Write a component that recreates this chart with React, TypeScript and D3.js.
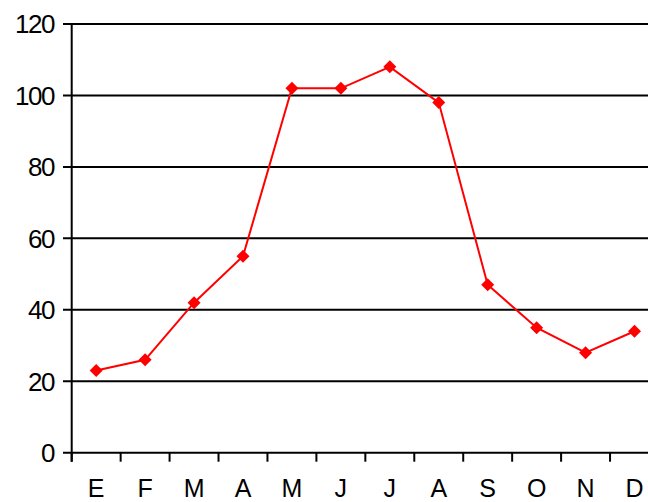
import * as d3 from "d3";

const months = ["E", "F", "M", "A", "M", "J", "J", "A", "S", "O", "N", "D"];
const values = [23, 26, 42, 55, 102, 102, 108, 98, 47, 35, 28, 34];
const yTicks = [0, 20, 40, 60, 80, 100, 120];

const W = 648;
const H = 502;
const LEFT = 71.7;
const BAND = 48.94;
const TOP = 24;
const BOTTOM = 452.7;

export default function App() {
  const x = d3
    .scaleBand<number>()
    .domain(months.map((_, i) => i))
    .range([LEFT, LEFT + BAND * months.length]);
  const y = d3.scaleLinear().domain([0, 120]).range([BOTTOM, TOP]);

  const line = d3
    .line<number>()
    .x((_, i) => (x(i) || 0) + x.bandwidth() / 2)
    .y((d) => y(d));

  const font = "'Liberation Sans', Arial, sans-serif";

  return (
    <svg
      width={W}
      height={H}
      style={{ position: "absolute", left: 0, top: 0, background: "#fff" }}
    >
      {/* gridlines + y ticks */}
      {yTicks.map((t) => (
        <g key={t}>
          <line
            x1={63}
            x2={W}
            y1={y(t)}
            y2={y(t)}
            stroke="#000"
            strokeWidth={2}
          />
          <text
            x={54}
            y={y(t)}
            dy="0.36em"
            textAnchor="end"
            fontFamily={font}
            fontSize={26}
            letterSpacing={-1.5}
            fill="#000"
          >
            {t}
          </text>
        </g>
      ))}
      {/* y axis */}
      <line x1={LEFT} x2={LEFT} y1={TOP} y2={BOTTOM + 9} stroke="#000" strokeWidth={2} />
      {/* x ticks */}
      {months.map((_, i) => (
        <line
          key={"t" + i}
          x1={x(i) || 0}
          x2={x(i) || 0}
          y1={BOTTOM}
          y2={BOTTOM + 9}
          stroke="#000"
          strokeWidth={2}
        />
      ))}
      {months.map((m, i) => (
        <text
          key={"l" + i}
          x={(x(i) || 0) + x.bandwidth() / 2}
          y={497}
          textAnchor="middle"
          fontFamily={font}
          fontSize={25}
          fill="#000"
        >
          {m}
        </text>
      ))}
      {/* series */}
      <path d={line(values) || ""} fill="none" stroke="#ff0000" strokeWidth={2} />
      {values.map((v, i) => {
        const cx = (x(i) || 0) + x.bandwidth() / 2;
        const cy = y(v);
        const r = 6.5;
        return (
          <path
            key={"p" + i}
            d={`M${cx},${cy - r}L${cx + r},${cy}L${cx},${cy + r}L${cx - r},${cy}Z`}
            fill="#ff0000"
          />
        );
      })}
    </svg>
  );
}
